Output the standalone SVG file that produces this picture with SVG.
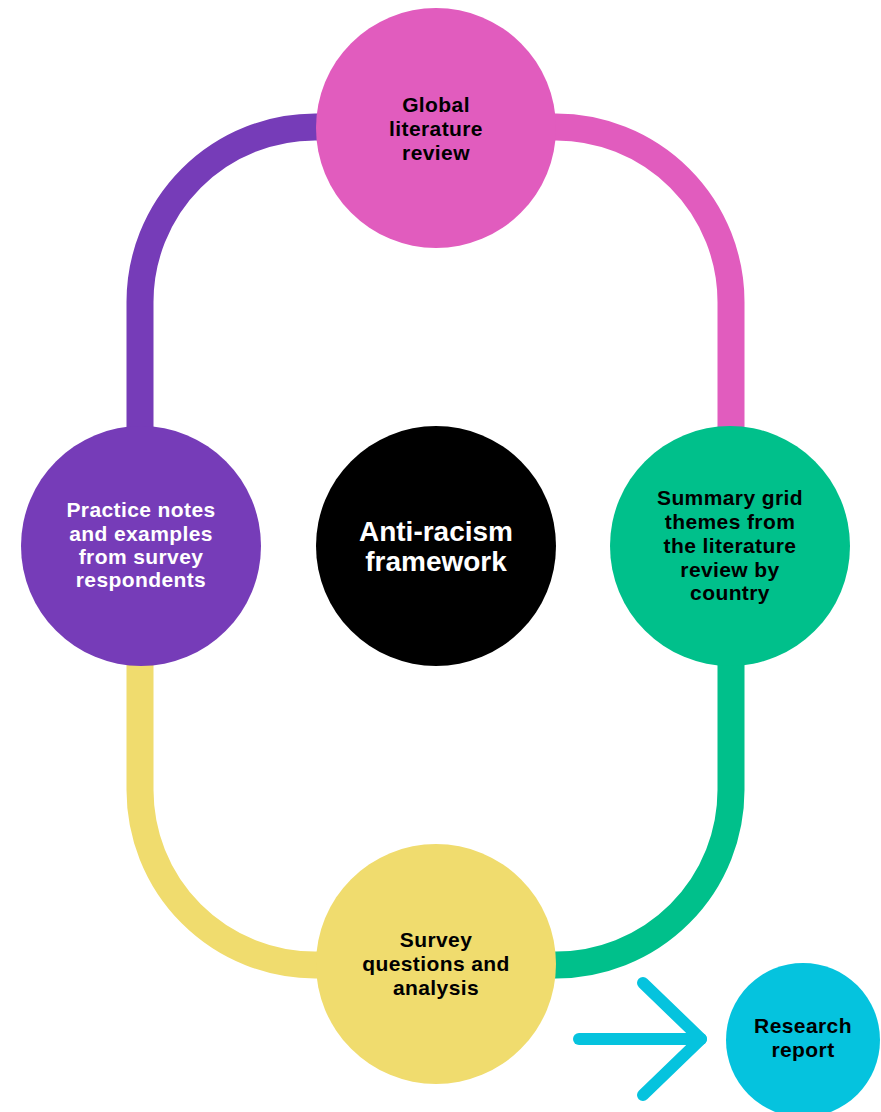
<svg xmlns="http://www.w3.org/2000/svg" width="881" height="1112" viewBox="0 0 881 1112">
<style>
.trk{fill:none;stroke-width:27}
.lbl{font-family:"Liberation Sans",Arial,sans-serif;font-weight:bold;font-size:21px;text-anchor:middle;letter-spacing:0.4px}
.big{font-family:"Liberation Sans",Arial,sans-serif;font-weight:bold;font-size:28px;text-anchor:middle;fill:#fff}
</style>
<rect width="881" height="1112" fill="#fff"/>
<g id="connectors">
<path class="trk" stroke="#763CB8" d="M140 546 V302 A175 175 0 0 1 315 127 H436"/>
<path class="trk" stroke="#E15CBE" d="M436 127 H556 A175 175 0 0 1 731 302 V546"/>
<path class="trk" stroke="#00C08B" d="M731 546 V790 A175 175 0 0 1 556 965 H436"/>
<path class="trk" stroke="#F0DC6E" d="M436 965 H315 A175 175 0 0 1 140 790 V546"/>
<g fill="none" stroke="#05C3DE" stroke-width="12" stroke-linecap="round" stroke-linejoin="round">
<path d="M579 1039 H701"/>
<path d="M643 983 L701 1039 L643 1095"/>
</g>
</g>
<g id="global">
<circle cx="436" cy="128" r="120" fill="#E15CBE"/>
<text class="lbl" fill="#000"><tspan x="436" y="112">Global</tspan><tspan x="436" y="136">literature</tspan><tspan x="436" y="160">review</tspan></text>
</g>
<g id="practice">
<circle cx="141" cy="546" r="120" fill="#763CB8"/>
<text class="lbl" fill="#fff"><tspan x="141" y="517">Practice notes</tspan><tspan x="141" y="541">and examples</tspan><tspan x="141" y="564">from survey</tspan><tspan x="141" y="587">respondents</tspan></text>
</g>
<g id="center">
<circle cx="436" cy="546" r="120" fill="#000"/>
<text class="big"><tspan x="436" y="541">Anti-racism</tspan><tspan x="436" y="571">framework</tspan></text>
</g>
<g id="summary">
<circle cx="730" cy="546" r="120" fill="#00C08B"/>
<text class="lbl" fill="#000"><tspan x="730" y="505">Summary grid</tspan><tspan x="730" y="529">themes from</tspan><tspan x="730" y="553">the literature</tspan><tspan x="730" y="577">review by</tspan><tspan x="730" y="600">country</tspan></text>
</g>
<g id="survey">
<circle cx="436" cy="964" r="120" fill="#F0DC6E"/>
<text class="lbl" fill="#000"><tspan x="436" y="947">Survey</tspan><tspan x="436" y="971">questions and</tspan><tspan x="436" y="995">analysis</tspan></text>
</g>
<g id="report">
<circle cx="803" cy="1040" r="77" fill="#05C3DE"/>
<text class="lbl" fill="#000"><tspan x="803" y="1033">Research</tspan><tspan x="803" y="1057">report</tspan></text>
</g>
</svg>
